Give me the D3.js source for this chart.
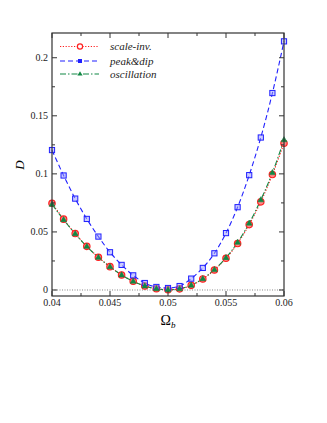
<!DOCTYPE html>
<html><head><meta charset="utf-8">
<script src="https://cdn.jsdelivr.net/npm/d3@7"></script>
<style>body{margin:0;background:#fff}svg{display:block}</style>
</head><body>
<script>
const omega = [0.040,0.041,0.042,0.043,0.044,0.045,0.046,0.047,0.048,0.049,0.050,0.051,0.052,0.053,0.054,0.055,0.056,0.057,0.058,0.059,0.060];
const scaleInv = [0.0747,0.0610,0.0486,0.0376,0.0282,0.0201,0.0129,0.0075,0.0034,0.0011,0.0002,0.0010,0.0040,0.0095,0.0172,0.0273,0.0400,0.0563,0.0759,0.0994,0.1264];
const peakDip = [0.1205,0.0986,0.0787,0.0612,0.0460,0.0325,0.0216,0.0126,0.0060,0.0026,0.0017,0.0034,0.0098,0.0190,0.0316,0.0490,0.0713,0.0989,0.1313,0.1696,0.2141];
const oscillation = [0.0737,0.0605,0.0484,0.0375,0.0281,0.0200,0.0129,0.0075,0.0034,0.0011,0.0002,0.0010,0.0041,0.0097,0.0175,0.0278,0.0410,0.0575,0.0776,0.1010,0.1293];
const seriesNames = ["scale-inv.","peak&dip","oscillation"];
const xTicks = [0.04,0.045,0.05,0.055,0.06];
const xTickLabels = ["0.04","0.045","0.05","0.055","0.06"];
const yTicks = [0,0.05,0.1,0.15,0.2];
const yTickLabels = ["0","0.05","0.1","0.15","0.2"];

const W=327,H=423;
const svg=d3.select("body").append("svg").attr("width",W).attr("height",H);
const L=52,R=284,T=33,B=296;
const x=d3.scaleLinear().domain([0.04,0.06]).range([L,R]);
const y=d3.scaleLinear().domain([-0.00517,0.2213]).range([B,T]);
const font="'Liberation Serif','Times New Roman',serif";

// zero line
svg.append("line").attr("x1",L).attr("x2",R).attr("y1",y(0)).attr("y2",y(0))
  .attr("stroke","#555").attr("stroke-width",0.7).attr("stroke-dasharray","1,1.5");

const series=[
 {name:seriesNames[0],vals:scaleInv,color:"#ff2020",dash:"1.2,1.6",marker:"circle"},
 {name:seriesNames[1],vals:peakDip,color:"#2020ff",dash:"5,3",marker:"square"},
 {name:seriesNames[2],vals:oscillation,color:"#118844",dash:"6,2,1.5,2",marker:"triangle"}
];
const line=d3.line().x((d,i)=>x(omega[i])).y(d=>y(d)).curve(d3.curveMonotoneX);
const g=svg.append("g");
function drawMarker(sel,type,color,cx,cy){
  if(type==="circle"){
    sel.append("circle").attr("cx",cx).attr("cy",cy).attr("r",3.2)
      .attr("fill","#f88").attr("stroke",color).attr("stroke-width",1.2);
  } else if(type==="square"){
    sel.append("rect").attr("x",cx-2.6).attr("y",cy-2.6).attr("width",5.2).attr("height",5.2)
      .attr("fill","#99f").attr("fill-opacity",0.5).attr("stroke",color).attr("stroke-width",1);
  } else {
    const s=3.2;
    sel.append("path").attr("d",`M${cx},${cy-s}L${cx+s*0.9},${cy+s*0.6}L${cx-s*0.9},${cy+s*0.6}Z`)
      .attr("fill",color).attr("stroke",color).attr("stroke-width",0.6);
  }
}
series.forEach(s=>{
  g.append("path").datum(s.vals).attr("d",line).attr("fill","none")
   .attr("stroke",s.color).attr("stroke-width",1.1).attr("stroke-dasharray",s.dash);
});
series.forEach(s=>{
  s.vals.forEach((v,i)=>drawMarker(g,s.marker,s.color,x(omega[i]),y(v)));
});

// frame
svg.append("rect").attr("x",L).attr("y",T).attr("width",R-L).attr("height",B-T)
  .attr("fill","none").attr("stroke","#333").attr("stroke-width",1.2);

// ticks (inward)
const ax=svg.append("g").attr("stroke","#333").attr("stroke-width",1);
const xMinor=d3.range(0,8).map(i=>0.0425+i*0.005).filter(v=>v<0.06);
xTicks.forEach(t=>{
  ax.append("line").attr("x1",x(t)).attr("x2",x(t)).attr("y1",B).attr("y2",B-5);
  ax.append("line").attr("x1",x(t)).attr("x2",x(t)).attr("y1",T).attr("y2",T+5);
});
xMinor.forEach(t=>{
  ax.append("line").attr("x1",x(t)).attr("x2",x(t)).attr("y1",B).attr("y2",B-3);
  ax.append("line").attr("x1",x(t)).attr("x2",x(t)).attr("y1",T).attr("y2",T+3);
});
const yMinor=[0.025,0.075,0.125,0.175];
yTicks.forEach(t=>{
  ax.append("line").attr("y1",y(t)).attr("y2",y(t)).attr("x1",L).attr("x2",L+5);
  ax.append("line").attr("y1",y(t)).attr("y2",y(t)).attr("x1",R).attr("x2",R-5);
});
yMinor.forEach(t=>{
  ax.append("line").attr("y1",y(t)).attr("y2",y(t)).attr("x1",L).attr("x2",L+3);
  ax.append("line").attr("y1",y(t)).attr("y2",y(t)).attr("x1",R).attr("x2",R-3);
});
xTicks.forEach((t,i)=>{
  svg.append("text").attr("x",x(t)).attr("y",B+10).attr("text-anchor","middle")
   .attr("font-family",font).attr("font-size",10).attr("fill","#222").text(xTickLabels[i]);
});
yTicks.forEach((t,i)=>{
  svg.append("text").attr("x",L-4).attr("y",y(t)+3.5).attr("text-anchor","end")
   .attr("font-family",font).attr("font-size",10).attr("fill","#222").text(yTickLabels[i]);
});

// axis titles
svg.append("text").attr("transform",`translate(24,165) rotate(-90)`).attr("text-anchor","middle")
  .attr("font-family",font).attr("font-style","italic").attr("font-size",13).text("D");
const xt=svg.append("text").attr("x",168).attr("y",325).attr("text-anchor","middle")
  .attr("font-family",font).attr("font-size",14);
xt.append("tspan").text("Ω");
xt.append("tspan").attr("font-size",9).attr("font-style","italic").attr("dy",3).text("b");

// legend
const legY=[46.5,61,74];
series.forEach((s,i)=>{
  const ly=legY[i];
  svg.append("line").attr("x1",60).attr("x2",99).attr("y1",ly).attr("y2",ly)
    .attr("stroke",s.color).attr("stroke-width",1.1).attr("stroke-dasharray",s.dash);
  if(s.marker==="circle"){
    svg.append("circle").attr("cx",80).attr("cy",ly).attr("r",2.6).attr("fill","#fff").attr("stroke",s.color).attr("stroke-width",1.2);
  } else if(s.marker==="square"){
    svg.append("rect").attr("x",78).attr("y",ly-2).attr("width",4).attr("height",4).attr("fill",s.color);
  } else {
    svg.append("path").attr("d",`M80,${ly-2.8}L82.6,${ly+1.6}L77.4,${ly+1.6}Z`).attr("fill",s.color);
  }
  svg.append("text").attr("x",110).attr("y",ly+3.8).attr("font-family",font).attr("font-style","italic")
    .attr("font-size",11).attr("fill","#222").text(s.name);
});
</script>
</body></html>
